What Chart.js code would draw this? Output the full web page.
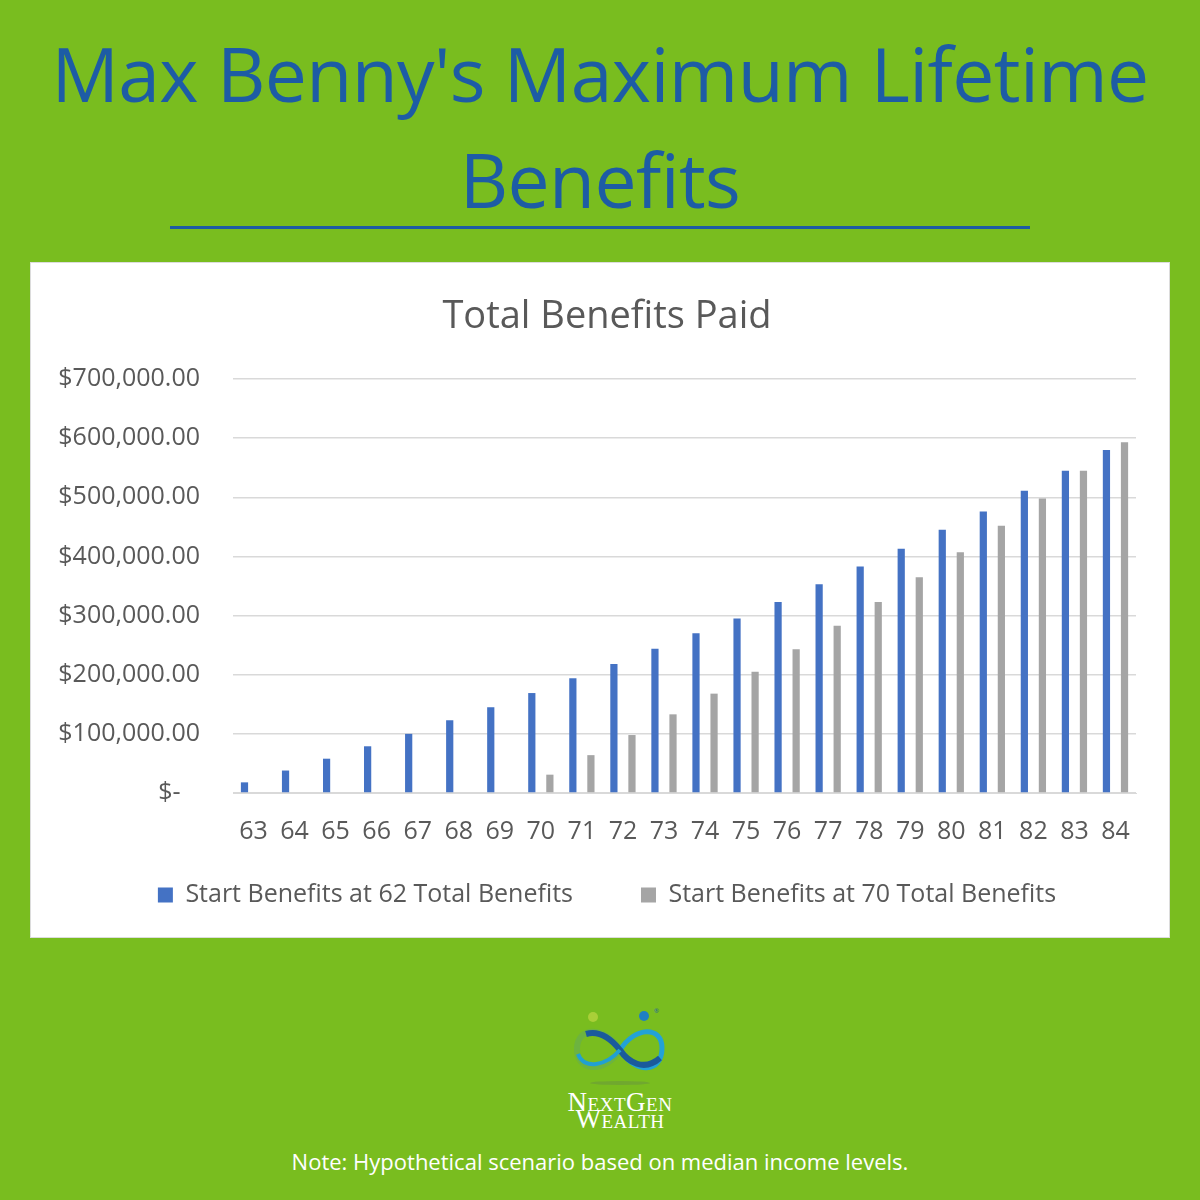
<!DOCTYPE html>
<html>
<head>
<meta charset="utf-8">
<script src="https://cdn.jsdelivr.net/npm/chart.js@4.4.1/dist/chart.umd.min.js"></script>
<style>
  html, body { margin: 0; padding: 0; }
  body { width: 1200px; height: 1200px; background: #79bd1f; position: relative; overflow: hidden; font-family: "Open Sans", sans-serif; }
  #title { position: absolute; left: 0; top: 20px; width: 1200px; text-align: center; color: #1d5ca5; font-size: 75px; line-height: 106px; letter-spacing: -0.6px; }
  #rule { position: absolute; left: 170px; top: 226px; width: 860px; height: 3px; background: #1d5ca5; }
  #box { position: absolute; left: 30px; top: 262px; width: 1138px; height: 674px; background: #fff; border: 1px solid #dcdcdc; }
  #logo { position: absolute; left: 560px; top: 1000px; }
  #brand { position: absolute; left: 0; top: 1094px; width: 1240px; text-align: center; color: #fff; font-family: "Liberation Serif", serif; font-variant: small-caps; font-size: 27px; line-height: 17px; letter-spacing: 0.5px; }
  #note { position: absolute; left: 0; top: 1146px; width: 1200px; text-align: center; color: #fff; font-size: 22px; line-height: 30px; }
</style>
</head>
<body>
<div id="title">Max Benny's Maximum Lifetime<br>Benefits</div>
<div id="rule"></div>
<div id="box"><canvas id="benefitsChart" width="1138" height="674"></canvas></div>

<svg id="logo" width="120" height="95" viewBox="0 0 120 95">
  <circle cx="33" cy="17" r="5" fill="#a9cf38"/>
  <circle cx="84" cy="16" r="5" fill="#1f7fc4"/>
  <text x="94" y="13" font-size="6" fill="#1f5fa0">®</text>
  <path d="M60 50 C 45 26, 18 26, 17 48 C 16 72, 45 74, 60 50" fill="none" stroke="#6db33f" stroke-width="6"/>
  <path d="M60 50 C 75 26, 102 26, 102 48 C 102 74, 75 74, 60 50" fill="none" stroke="#23a2d6" stroke-width="5"/>
  <path d="M26 34 C 40 30, 52 40, 60 50 C 68 62, 84 72, 100 58" fill="none" stroke="#1a5a9c" stroke-width="6"/>
  <path d="M18 54 C 24 70, 46 66, 60 50" fill="none" stroke="#21a0d2" stroke-width="4"/>
  <ellipse cx="60" cy="83" rx="30" ry="2" fill="#6a9a3a" opacity="0.6"/>
</svg>
<div id="brand">NextGen<br>Wealth</div>
<div id="note">Note: Hypothetical scenario based on median income levels.</div>

<script>
const ages = ['63', '64', '65', '66', '67', '68', '69', '70', '71', '72', '73',
  '74', '75', '76', '77', '78', '79', '80', '81', '82', '83', '84'];

const startAt62 = [18000, 38000, 58000, 79000, 100000, 123000, 145000, 169000, 194000, 218000, 244000,
  270000, 295000, 323000, 353000, 383000, 413000, 445000, 476000, 511000, 545000, 580000];

const startAt70 = [null, null, null, null, null, null, null, 31000, 64000, 98000, 133000,
  168000, 205000, 243000, 283000, 323000, 365000, 407000, 452000, 498000, 545000, 593000];

const seriesNames = ['Start Benefits at 62 Total Benefits', 'Start Benefits at 70 Total Benefits'];

const textGray = '#595959';
const gridGray = '#d9d9d9';

function money(value) {
  if (value === 0) return '$-   ';
  return '$' + value.toLocaleString('en-US', { minimumFractionDigits: 2, maximumFractionDigits: 2 });
}

document.addEventListener('DOMContentLoaded', () => {
  const canvas = document.getElementById('benefitsChart');
  const defaultLabels = Chart.defaults.plugins.legend.labels.generateLabels;

  new Chart(canvas, {
    type: 'bar',
    data: {
      labels: ages,
      datasets: [
        {
          label: seriesNames[0],
          data: startAt62,
          backgroundColor: '#4472c4',
          categoryPercentage: 0.88,
          barPercentage: 0.4
        },
        {
          label: seriesNames[1],
          data: startAt70,
          backgroundColor: '#a5a5a5',
          categoryPercentage: 0.88,
          barPercentage: 0.4
        }
      ]
    },
    options: {
      responsive: false,
      animation: false,
      layout: { padding: { left: 14, right: 0, top: 0, bottom: 19.5 } },
      scales: {
        x: {
          grid: { display: false, drawTicks: false },
          border: { color: gridGray, width: 1 },
          ticks: { color: textGray, font: { family: 'Open Sans', size: 25 }, padding: 24, maxRotation: 0, autoSkip: false },
          afterFit: scale => { scale.height = 54; }
        },
        y: {
          min: 0,
          max: 700000,
          ticks: { stepSize: 100000, color: textGray, font: { family: 'Open Sans', size: 25 }, padding: 33, callback: money },
          grid: { color: gridGray, lineWidth: 1.5, drawTicks: false },
          border: { display: false },
          afterFit: scale => { scale.width = 188; }
        },
        // empty right-hand gutter, keeps the plot narrower than the legend row
        gutter: {
          type: 'linear',
          position: 'right',
          grid: { display: false },
          ticks: { display: false },
          border: { display: false },
          afterFit: scale => { scale.width = 33; }
        }
      },
      plugins: {
        title: {
          display: true,
          text: 'Total Benefits Paid',
          color: textGray,
          font: { family: 'Open Sans', size: 38, weight: 'normal' },
          padding: { top: 31.2, bottom: 39.2 }
        },
        legend: {
          position: 'bottom',
          labels: {
            color: textGray,
            font: { family: 'Open Sans', size: 25 },
            boxWidth: 15,
            boxHeight: 15,
            padding: 35.5,
            // Excel leaves a wider gap between the two entries
            generateLabels: chart => {
              const items = defaultLabels(chart);
              items[0].text += '\u00a0\u00a0\u00a0\u00a0\u00a0';
              return items;
            }
          }
        },
        tooltip: { enabled: false }
      }
    }
  });
});
</script>
</body>
</html>
